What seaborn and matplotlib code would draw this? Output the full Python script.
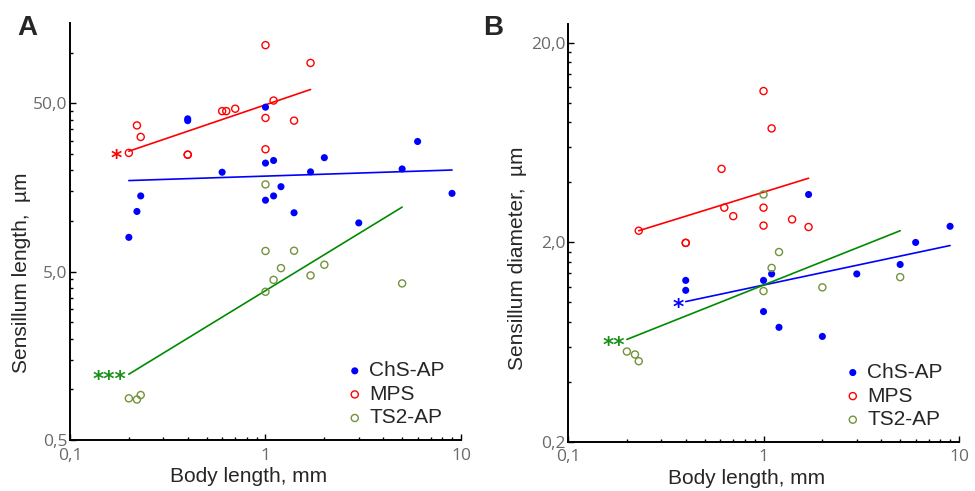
import numpy as np
import pandas as pd
import seaborn as sns
import matplotlib.pyplot as plt
from matplotlib.ticker import FixedLocator, NullFormatter, LogLocator


# panel A: sensillum length vs body length
a_chs_x = [1, 0.4, 0.4, 6, 2, 1.1, 1, 0.6, 1.7, 5, 9, 0.23, 1.2, 1.1, 1, 0.22, 1.4, 3, 0.2]
a_chs_y = [47.5, 40.5, 39.5, 29.7, 23.8, 22.9, 22.1, 19.5, 19.6, 20.4, 14.6, 14.1, 16.0, 14.1, 13.3, 11.4, 11.2, 9.75, 8.0]
a_mps_x = [1, 1.7, 1.1, 0.6, 0.63, 0.7, 1, 1.4, 0.22, 0.23, 1, 0.2, 0.4, 0.4]
a_mps_y = [111, 87, 52, 45, 45, 46.5, 41, 39.5, 37, 31.6, 26.7, 25.4, 24.8, 24.8]
a_ts2_x = [1, 1, 1.4, 1.2, 2, 1.7, 1.1, 1, 5, 0.2, 0.22, 0.23]
a_ts2_y = [16.5, 6.64, 6.66, 5.25, 5.5, 4.75, 4.47, 3.8, 4.26, 0.884, 0.87, 0.925]
# fitted lines (end points)
a_fit_chs = ([0.2, 9], [17.4, 20.1])
a_fit_mps = ([0.2, 1.7], [26, 60.5])
a_fit_ts2 = ([0.2, 5], [1.23, 12.1])

# panel B: sensillum diameter vs body length
b_chs_x = [1.7, 9, 6, 5, 3, 1.1, 1, 0.4, 0.4, 1, 1.2, 2]
b_chs_y = [3.48, 2.41, 2.0, 1.55, 1.39, 1.39, 1.29, 1.29, 1.15, 0.90, 0.75, 0.675]
b_mps_x = [1, 1.1, 0.61, 0.63, 1, 0.7, 1.4, 1, 1.7, 0.23, 0.4, 0.4]
b_mps_y = [11.5, 7.47, 4.68, 2.99, 2.99, 2.71, 2.61, 2.43, 2.39, 2.29, 1.99, 1.99]
b_ts2_x = [1, 1.2, 1.1, 1, 2, 5, 0.2, 0.22, 0.23]
b_ts2_y = [3.48, 1.79, 1.49, 1.14, 1.19, 1.34, 0.567, 0.548, 0.507]
b_fit_chs = ([0.4, 9], [1.01, 1.93])
b_fit_mps = ([0.23, 1.7], [2.29, 4.2])
b_fit_ts2 = ([0.2, 5], [0.652, 2.29])

x_ticks = [0.1, 1, 10]
x_ticklabels = ["0,1", "1", "10"]
a_yticks = [0.5, 5, 50]
a_yticklabels = ["0,5", "5,0", "50,0"]
b_yticks = [0.2, 2, 20]
b_yticklabels = ["0,2", "2,0", "20,0"]

BLUE = "#0000ff"
RED = "#ff0000"
OLIVE = "#73933a"
GREEN = "#008a00"
GREEN_TXT = "#1a8f1a"
GREY = "#6a6a6a"

sns.set_style("ticks")
plt.rcParams["font.family"] = ["Liberation Sans", "DejaVu Sans"]

fig = plt.figure(figsize=(9.75, 4.91), dpi=100)
axA = fig.add_axes([0.0718, 0.1039, 0.401, 0.849])
axB = fig.add_axes([0.5826, 0.1004, 0.401, 0.851])


def draw_panel(ax, chs, mps, ts2, fits, yticks, ylabels, ylim, ybase, ylabel, ylab_pos):
    sns.scatterplot(x=chs[0], y=chs[1], ax=ax, color=BLUE, edgecolor="none",
                    s=26, label="ChS-AP", zorder=3)
    sns.scatterplot(x=mps[0], y=mps[1], ax=ax, facecolor="none", edgecolor=RED,
                    linewidth=1.0, s=26, label="MPS", zorder=3)
    sns.scatterplot(x=ts2[0], y=ts2[1], ax=ax, facecolor="none", edgecolor=OLIVE,
                    linewidth=1.0, s=26, label="TS2-AP", zorder=3)
    for (fx, fy), c in zip(fits, [BLUE, RED, GREEN]):
        sns.lineplot(x=fx, y=fy, ax=ax, color=c, linewidth=1.2, zorder=2)

    ax.set_xscale("log")
    ax.set_yscale("log")
    ax.set_xlim(0.1, 10)
    ax.set_ylim(*ylim)

    ax.set_xticks(x_ticks)
    ax.set_xticklabels(x_ticklabels, family="Open Sans")
    ax.xaxis.set_minor_locator(LogLocator(base=10, subs=np.arange(2, 10)))
    ax.xaxis.set_minor_formatter(NullFormatter())
    ax.set_yticks(yticks)
    ax.set_yticklabels(ylabels, family="Open Sans")
    # lowest y label sits a little higher so it clears the "0,1" below it
    ax.get_yticklabels()[0].set_va("center_baseline")
    minor = [ybase * m * 10 ** k for k in range(-1, 3) for m in range(2, 10)]
    minor = [v for v in minor if ylim[0] < v < ylim[1] and v not in yticks]
    ax.yaxis.set_minor_locator(FixedLocator(minor))
    ax.yaxis.set_minor_formatter(NullFormatter())

    ax.tick_params(which="both", direction="in", colors="black", width=1,
                   labelcolor=GREY, labelsize=12.5)
    ax.tick_params(axis="x", pad=5.5)
    ax.tick_params(axis="y", pad=2)
    ax.tick_params(which="major", length=4)
    ax.tick_params(which="minor", length=2.5)
    sns.despine(ax=ax)
    for sp in ["left", "bottom"]:
        ax.spines[sp].set_linewidth(1.4)
        ax.spines[sp].set_color("black")

    ax.set_xlabel("Body length, mm", fontsize=15)
    ax.xaxis.set_label_coords(0.457, -0.065)
    ax.set_ylabel(ylabel, fontsize=15)
    ax.yaxis.set_label_coords(*ylab_pos)

    leg = ax.legend(loc="lower left", bbox_to_anchor=(0.715, 0.03), frameon=False,
                    fontsize=15, handlelength=0.5, handletextpad=0.45,
                    labelspacing=0.22, borderpad=0, borderaxespad=0)
    return leg


draw_panel(axA, (a_chs_x, a_chs_y), (a_mps_x, a_mps_y), (a_ts2_x, a_ts2_y),
           [a_fit_chs, a_fit_mps, a_fit_ts2], a_yticks, a_yticklabels,
           (0.5, 150), 0.5, "Sensillum length,  \u00b5m", (-0.10, 0.40))
draw_panel(axB, (b_chs_x, b_chs_y), (b_mps_x, b_mps_y), (b_ts2_x, b_ts2_y),
           [b_fit_chs, b_fit_mps, b_fit_ts2], b_yticks, b_yticklabels,
           (0.2, 25), 0.2, "Sensillum diameter,  \u00b5m", (-0.105, 0.44))

# significance marks at the start of the fitted lines
star_kw = dict(textcoords="offset points", xytext=(0, -8), ha="center",
               va="baseline", fontsize=15.5, fontweight="bold", family="DejaVu Sans")
axA.annotate("*", xy=(0.173, 25.2), color=RED, **star_kw)
axA.annotate("***", xy=(0.16, 1.22), color=GREEN_TXT, **star_kw)
axB.annotate("*", xy=(0.364, 0.99), color=BLUE, **star_kw)
axB.annotate("**", xy=(0.172, 0.638), color=GREEN_TXT, **star_kw)

fig.text(0.0174, 0.9287, "A", fontsize=20, fontweight="bold", va="baseline")
fig.text(0.4954, 0.9287, "B", fontsize=20, fontweight="bold", va="baseline")

fig.savefig("out.png", dpi=100)
